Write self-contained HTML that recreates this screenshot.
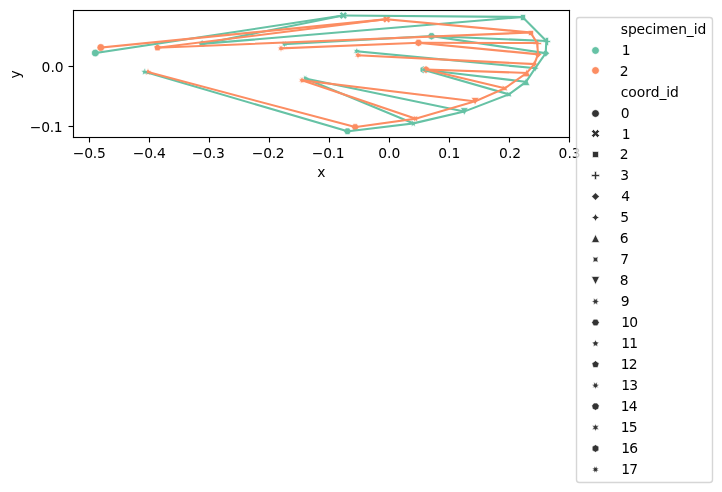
<!DOCTYPE html>
<html lang="en">
<head>
<meta charset="utf-8">
<title>plot</title>
<style>
html,body{margin:0;padding:0;background:#fff;}
body{width:722px;height:492px;overflow:hidden;position:relative;font-family:"DejaVu Sans","Liberation Sans",sans-serif;}
svg{position:absolute;left:0;top:0;display:block;}
</style>
</head>
<body>
<svg width="722" height="492" viewBox="0 0 722 492">
<g transform="translate(0,-0.1701) scale(1.388889)">
 <defs>
  <style type="text/css">*{stroke-linejoin: round; stroke-linecap: butt}</style>
 </defs>
 <g id="figure_1">
  <g id="patch_1">
   <path d="M 0 354.3625 
L 520.09 354.3625 
L 520.09 0 
L 0 0 
z
" style="fill: #ffffff"/>
  </g>
  <g id="axes_1">
   <g id="patch_2">
    <path d="M 52.49 98.563418 
L 409.61 98.563418 
L 409.61 7.2 
L 52.49 7.2 
z
" style="fill: #ffffff"/>
   </g>
   <g id="PathCollection_1">
    <path d="M 68.61600 41.02111 C 69.34229 41.02111 70.03893 40.73255 70.55249 40.21899 C 71.06606 39.70543 71.35461 39.00879 71.35461 38.28250 C 71.35461 37.55621 71.06606 36.85957 70.55249 36.34601 C 70.03893 35.83244 69.34229 35.54389 68.61600 35.54389 C 67.88971 35.54389 67.19307 35.83244 66.67951 36.34601 C 66.16594 36.85957 65.87739 37.55621 65.87739 38.28250 C 65.87739 39.00879 66.16594 39.70543 66.67951 40.21899 C 67.19307 40.73255 67.88971 41.02111 68.61600 41.02111 z" clip-path="url(#pe95a0014cc)" style="fill: #66c2a5; stroke: #ffffff; stroke-width: 0.438178"/>
    <path d="M 245.80669 14.02111 L 247.17600 12.65181 L 248.54531 14.02111 L 249.91461 12.65181 L 248.54531 11.28250 L 249.91461 9.91319 L 248.54531 8.54389 L 247.17600 9.91319 L 245.80669 8.54389 L 244.43739 9.91319 L 245.80669 11.28250 L 244.43739 12.65181 z" clip-path="url(#pe95a0014cc)" style="fill: #66c2a5; stroke: #ffffff; stroke-width: 0.438178"/>
    <path d="M 374.76000 10.56250 L 374.76000 14.88250 L 378.36000 14.88250 L 378.36000 10.56250 z" clip-path="url(#pe95a0014cc)" style="fill: #66c2a5; stroke: #ffffff; stroke-width: 0.438178"/>
    <path d="M 392.76000 32.88250 L 394.92000 32.88250 L 394.92000 30.72250 L 396.36000 30.72250 L 396.36000 29.28250 L 394.92000 29.28250 L 394.92000 27.12250 L 392.76000 27.12250 L 392.76000 29.28250 L 391.32000 29.28250 L 391.32000 30.72250 L 392.76000 30.72250 z" clip-path="url(#pe95a0014cc)" style="fill: #66c2a5; stroke: #ffffff; stroke-width: 0.438178"/>
    <path d="M 392.90400 35.68789 L 390.16539 38.42650 L 392.90400 41.16511 L 395.64261 38.42650 z" clip-path="url(#pe95a0014cc)" style="fill: #66c2a5; stroke: #ffffff; stroke-width: 0.438178"/>
    <path d="M 385.34400 46.48789 L 384.37575 48.25825 L 382.60539 49.22650 L 384.37575 50.19475 L 385.34400 51.96511 L 386.31225 50.19475 L 388.08261 49.22650 L 386.31225 48.25825 z" clip-path="url(#pe95a0014cc)" style="fill: #66c2a5; stroke: #ffffff; stroke-width: 0.438178"/>
    <path d="M 378.79200 56.27989 L 376.05339 61.75711 L 381.53061 61.75711 z" clip-path="url(#pe95a0014cc)" style="fill: #66c2a5; stroke: #ffffff; stroke-width: 0.438178"/>
    <path d="M 364.54351 66.15401 L 365.11069 68.09050 L 364.54351 70.02699 L 366.48000 69.45981 L 368.41649 70.02699 L 367.84931 68.09050 L 368.41649 66.15401 L 366.48000 66.72119 z" clip-path="url(#pe95a0014cc)" style="fill: #66c2a5; stroke: #ffffff; stroke-width: 0.438178"/>
    <path d="M 334.29600 83.14111 L 337.03461 77.66389 L 331.55739 77.66389 z" clip-path="url(#pe95a0014cc)" style="fill: #66c2a5; stroke: #ffffff; stroke-width: 0.438178"/>
    <path d="M 296.20669 86.59879 L 296.39015 88.28585 L 294.83739 88.97050 L 296.39015 89.65515 L 296.20669 91.34221 L 297.57600 90.33981 L 298.94531 91.34221 L 298.76185 89.65515 L 300.31461 88.97050 L 298.76185 88.28585 L 298.94531 86.59879 L 297.57600 87.60119 z" clip-path="url(#pe95a0014cc)" style="fill: #66c2a5; stroke: #ffffff; stroke-width: 0.438178"/>
    <path d="M 248.83069 92.28679 L 247.46139 94.65850 L 248.83069 97.03021 L 251.56931 97.03021 L 252.93861 94.65850 L 251.56931 92.28679 z" clip-path="url(#pe95a0014cc)" style="fill: #66c2a5; stroke: #ffffff; stroke-width: 0.438178"/>
    <path d="M 104.25600 49.15189 L 103.45114 50.78271 L 101.65142 51.04422 L 102.95371 52.31364 L 102.64628 54.10608 L 104.25600 53.25981 L 105.86572 54.10608 L 105.55829 52.31364 L 106.86058 51.04422 L 105.06086 50.78271 z" clip-path="url(#pe95a0014cc)" style="fill: #66c2a5; stroke: #ffffff; stroke-width: 0.438178"/>
    <path d="M 145.58400 28.99189 L 142.97942 30.88422 L 143.97428 33.94608 L 147.19372 33.94608 L 148.18858 30.88422 z" clip-path="url(#pe95a0014cc)" style="fill: #66c2a5; stroke: #ffffff; stroke-width: 0.438178"/>
    <path d="M 203.57976 29.40710 L 203.69743 31.02075 L 202.09805 31.26510 L 203.43302 32.17920 L 202.62687 33.58200 L 204.17388 33.10820 L 204.76800 34.61311 L 205.36212 33.10820 L 206.90913 33.58200 L 206.10297 32.17920 L 207.43795 31.26510 L 205.83857 31.02075 L 205.95624 29.40710 L 204.76800 30.50519 z" clip-path="url(#pe95a0014cc)" style="fill: #66c2a5; stroke: #ffffff; stroke-width: 0.438178"/>
    <path d="M 309.49176 23.64710 L 308.01005 25.50510 L 308.53887 27.82200 L 310.68000 28.85311 L 312.82113 27.82200 L 313.34995 25.50510 L 311.86824 23.64710 z" clip-path="url(#pe95a0014cc)" style="fill: #66c2a5; stroke: #ffffff; stroke-width: 0.438178"/>
    <path d="M 256.89600 34.31989 L 256.21135 35.87265 L 254.52429 35.68919 L 255.52669 37.05850 L 254.52429 38.42781 L 256.21135 38.24435 L 256.89600 39.79711 L 257.58065 38.24435 L 259.26771 38.42781 L 258.26531 37.05850 L 259.26771 35.68919 L 257.58065 35.87265 z" clip-path="url(#pe95a0014cc)" style="fill: #66c2a5; stroke: #ffffff; stroke-width: 0.438178"/>
    <path d="M 304.84800 47.56789 L 302.47629 48.93719 L 302.47629 51.67581 L 304.84800 53.04511 L 307.21971 51.67581 L 307.21971 48.93719 z" clip-path="url(#pe95a0014cc)" style="fill: #66c2a5; stroke: #ffffff; stroke-width: 0.438178"/>
    <path d="M 218.69598 54.04035 L 218.77575 55.60225 L 217.21385 55.52248 L 218.37469 56.57050 L 217.21385 57.61852 L 218.77575 57.53875 L 218.69598 59.10065 L 219.74400 57.93981 L 220.79202 59.10065 L 220.71225 57.53875 L 222.27415 57.61852 L 221.11331 56.57050 L 222.27415 55.52248 L 220.71225 55.60225 L 220.79202 54.04035 L 219.74400 55.20119 z" clip-path="url(#pe95a0014cc)" style="fill: #66c2a5; stroke: #ffffff; stroke-width: 0.438178"/>
    <path d="M 72.57600 37.06111 C 73.30229 37.06111 73.99893 36.77255 74.51249 36.25899 C 75.02605 35.74543 75.31461 35.04879 75.31461 34.32250 C 75.31461 33.59621 75.02605 32.89957 74.51249 32.38601 C 73.99893 31.87244 73.30229 31.58389 72.57600 31.58389 C 71.84971 31.58389 71.15307 31.87244 70.63951 32.38601 C 70.12595 32.89957 69.83739 33.59621 69.83739 34.32250 C 69.83739 35.04879 70.12595 35.74543 70.63951 36.25899 C 71.15307 36.77255 71.84971 37.06111 72.57600 37.06111 z" clip-path="url(#pe95a0014cc)" style="fill: #fc8d62; stroke: #ffffff; stroke-width: 0.438178"/>
    <path d="M 277.05469 16.68511 L 278.42400 15.31581 L 279.79331 16.68511 L 281.16261 15.31581 L 279.79331 13.94650 L 281.16261 12.57719 L 279.79331 11.20789 L 278.42400 12.57719 L 277.05469 11.20789 L 275.68539 12.57719 L 277.05469 13.94650 L 275.68539 15.31581 z" clip-path="url(#pe95a0014cc)" style="fill: #fc8d62; stroke: #ffffff; stroke-width: 0.438178"/>
    <path d="M 380.52000 22.08250 L 380.52000 25.68250 L 384.12000 25.68250 L 384.12000 22.08250 z" clip-path="url(#pe95a0014cc)" style="fill: #fc8d62; stroke: #ffffff; stroke-width: 0.438178"/>
    <path d="M 386.28000 34.32250 L 387.72000 34.32250 L 387.72000 32.16250 L 389.88000 32.16250 L 389.88000 30.72250 L 387.72000 30.72250 L 387.72000 28.56250 L 386.28000 28.56250 L 386.28000 30.72250 L 384.12000 30.72250 L 384.12000 32.16250 L 386.28000 32.16250 z" clip-path="url(#pe95a0014cc)" style="fill: #fc8d62; stroke: #ffffff; stroke-width: 0.438178"/>
    <path d="M 387.36000 36.47989 L 384.62139 39.21850 L 387.36000 41.95711 L 390.09861 39.21850 z" clip-path="url(#pe95a0014cc)" style="fill: #fc8d62; stroke: #ffffff; stroke-width: 0.438178"/>
    <path d="M 384.69600 43.53589 L 383.72775 45.30625 L 381.95739 46.27450 L 383.72775 47.24275 L 384.69600 49.01311 L 385.66425 47.24275 L 387.43461 46.27450 L 385.66425 45.30625 z" clip-path="url(#pe95a0014cc)" style="fill: #fc8d62; stroke: #ffffff; stroke-width: 0.438178"/>
    <path d="M 379.29600 49.87189 L 376.55739 55.34911 L 382.03461 55.34911 z" clip-path="url(#pe95a0014cc)" style="fill: #fc8d62; stroke: #ffffff; stroke-width: 0.438178"/>
    <path d="M 361.51951 61.76201 L 362.08669 63.69850 L 361.51951 65.63499 L 363.45600 65.06781 L 365.39249 65.63499 L 364.82531 63.69850 L 365.39249 61.76201 L 363.45600 62.32919 z" clip-path="url(#pe95a0014cc)" style="fill: #fc8d62; stroke: #ffffff; stroke-width: 0.438178"/>
    <path d="M 342.07200 75.79711 L 344.81061 70.31989 L 339.33339 70.31989 z" clip-path="url(#pe95a0014cc)" style="fill: #fc8d62; stroke: #ffffff; stroke-width: 0.438178"/>
    <path d="M 297.86269 83.21479 L 298.04615 84.90185 L 296.49339 85.58650 L 298.04615 86.27115 L 297.86269 87.95821 L 299.23200 86.95581 L 300.60131 87.95821 L 300.41785 86.27115 L 301.97061 85.58650 L 300.41785 84.90185 L 300.60131 83.21479 L 299.23200 84.21719 z" clip-path="url(#pe95a0014cc)" style="fill: #fc8d62; stroke: #ffffff; stroke-width: 0.438178"/>
    <path d="M 254.37469 89.26279 L 253.00539 91.63450 L 254.37469 94.00621 L 257.11331 94.00621 L 258.48261 91.63450 L 257.11331 89.26279 z" clip-path="url(#pe95a0014cc)" style="fill: #fc8d62; stroke: #ffffff; stroke-width: 0.438178"/>
    <path d="M 106.56000 49.29589 L 105.75514 50.92671 L 103.95542 51.18822 L 105.25771 52.45764 L 104.95028 54.25008 L 106.56000 53.40381 L 108.16972 54.25008 L 107.86229 52.45764 L 109.16458 51.18822 L 107.36486 50.92671 z" clip-path="url(#pe95a0014cc)" style="fill: #fc8d62; stroke: #ffffff; stroke-width: 0.438178"/>
    <path d="M 113.40000 31.72789 L 110.79542 33.62022 L 111.79028 36.68208 L 115.00972 36.68208 L 116.00458 33.62022 z" clip-path="url(#pe95a0014cc)" style="fill: #fc8d62; stroke: #ffffff; stroke-width: 0.438178"/>
    <path d="M 201.13176 32.50310 L 201.24943 34.11675 L 199.65005 34.36110 L 200.98503 35.27520 L 200.17887 36.67800 L 201.72588 36.20420 L 202.32000 37.70911 L 202.91412 36.20420 L 204.46113 36.67800 L 203.65498 35.27520 L 204.98995 34.36110 L 203.39057 34.11675 L 203.50824 32.50310 L 202.32000 33.60119 z" clip-path="url(#pe95a0014cc)" style="fill: #fc8d62; stroke: #ffffff; stroke-width: 0.438178"/>
    <path d="M 300.13176 28.47109 L 298.65005 30.32910 L 299.17887 32.64600 L 301.32000 33.67711 L 303.46113 32.64600 L 303.98995 30.32910 L 302.50824 28.47109 z" clip-path="url(#pe95a0014cc)" style="fill: #fc8d62; stroke: #ffffff; stroke-width: 0.438178"/>
    <path d="M 257.76000 37.12789 L 257.07535 38.68065 L 255.38829 38.49719 L 256.39069 39.86650 L 255.38829 41.23581 L 257.07535 41.05235 L 257.76000 42.60511 L 258.44465 41.05235 L 260.13171 41.23581 L 259.12931 39.86650 L 260.13171 38.49719 L 258.44465 38.68065 z" clip-path="url(#pe95a0014cc)" style="fill: #fc8d62; stroke: #ffffff; stroke-width: 0.438178"/>
    <path d="M 306.72000 47.49589 L 304.34829 48.86519 L 304.34829 51.60381 L 306.72000 52.97311 L 309.09171 51.60381 L 309.09171 48.86519 z" clip-path="url(#pe95a0014cc)" style="fill: #fc8d62; stroke: #ffffff; stroke-width: 0.438178"/>
    <path d="M 216.46398 55.40835 L 216.54375 56.97025 L 214.98185 56.89048 L 216.14269 57.93850 L 214.98185 58.98652 L 216.54375 58.90675 L 216.46398 60.46865 L 217.51200 59.30781 L 218.56002 60.46865 L 218.48025 58.90675 L 220.04215 58.98652 L 218.88131 57.93850 L 220.04215 56.89048 L 218.48025 56.97025 L 218.56002 55.40835 L 217.51200 56.56919 z" clip-path="url(#pe95a0014cc)" style="fill: #fc8d62; stroke: #ffffff; stroke-width: 0.438178"/>
   </g>
   <g id="matplotlib.axis_1">
    <g id="xtick_1">
     <g id="line2d_1">
      <defs>
       <path id="mbd2add99ed" d="M 0 0 
L 0 3.6 
" style="stroke: #000000; stroke-width: 0.8"/>
      </defs>
      <g>
       <use href="#mbd2add99ed" x="64.44000" y="99.12250" style="stroke: #000000; stroke-width: 0.8"/>
      </g>
     </g>
     <g id="text_1">
      <text style="font-size: 10px; font-family: 'DejaVu Sans', 'Liberation Sans', sans-serif; text-anchor: middle" x="64.30655" y="114.20342" textLength="23.6880" lengthAdjust="spacing">−0.5</text>
     </g>
    </g>
    <g id="xtick_2">
     <g id="line2d_2">
      <g>
       <use href="#mbd2add99ed" x="107.64000" y="99.12250" style="stroke: #000000; stroke-width: 0.8"/>
      </g>
     </g>
     <g id="text_2">
      <text style="font-size: 10px; font-family: 'DejaVu Sans', 'Liberation Sans', sans-serif; text-anchor: middle" x="107.49076" y="114.20342" textLength="23.6880" lengthAdjust="spacing">−0.4</text>
     </g>
    </g>
    <g id="xtick_3">
     <g id="line2d_3">
      <g>
       <use href="#mbd2add99ed" x="150.84000" y="99.12250" style="stroke: #000000; stroke-width: 0.8"/>
      </g>
     </g>
     <g id="text_3">
      <text style="font-size: 10px; font-family: 'DejaVu Sans', 'Liberation Sans', sans-serif; text-anchor: middle" x="149.95497" y="114.20342" textLength="23.6880" lengthAdjust="spacing">−0.3</text>
     </g>
    </g>
    <g id="xtick_4">
     <g id="line2d_4">
      <g>
       <use href="#mbd2add99ed" x="194.04000" y="99.12250" style="stroke: #000000; stroke-width: 0.8"/>
      </g>
     </g>
     <g id="text_4">
      <text style="font-size: 10px; font-family: 'DejaVu Sans', 'Liberation Sans', sans-serif; text-anchor: middle" x="193.13917" y="114.20342" textLength="23.6880" lengthAdjust="spacing">−0.2</text>
     </g>
    </g>
    <g id="xtick_5">
     <g id="line2d_5">
      <g>
       <use href="#mbd2add99ed" x="237.24000" y="99.12250" style="stroke: #000000; stroke-width: 0.8"/>
      </g>
     </g>
     <g id="text_5">
      <text style="font-size: 10px; font-family: 'DejaVu Sans', 'Liberation Sans', sans-serif; text-anchor: middle" x="236.32338" y="114.20342" textLength="23.6880" lengthAdjust="spacing">−0.1</text>
     </g>
    </g>
    <g id="xtick_6">
     <g id="line2d_6">
      <g>
       <use href="#mbd2add99ed" x="280.44000" y="99.12250" style="stroke: #000000; stroke-width: 0.8"/>
      </g>
     </g>
     <g id="text_6">
      <text style="font-size: 10px; font-family: 'DejaVu Sans', 'Liberation Sans', sans-serif; text-anchor: middle" x="280.22759" y="114.20342">0.0</text>
     </g>
    </g>
    <g id="xtick_7">
     <g id="line2d_7">
      <g>
       <use href="#mbd2add99ed" x="323.64000" y="99.12250" style="stroke: #000000; stroke-width: 0.8"/>
      </g>
     </g>
     <g id="text_7">
      <text style="font-size: 10px; font-family: 'DejaVu Sans', 'Liberation Sans', sans-serif; text-anchor: middle" x="323.41179" y="114.20342">0.1</text>
     </g>
    </g>
    <g id="xtick_8">
     <g id="line2d_8">
      <g>
       <use href="#mbd2add99ed" x="366.84000" y="99.12250" style="stroke: #000000; stroke-width: 0.8"/>
      </g>
     </g>
     <g id="text_8">
      <text style="font-size: 10px; font-family: 'DejaVu Sans', 'Liberation Sans', sans-serif; text-anchor: middle" x="367.31600" y="114.20342">0.2</text>
     </g>
    </g>
    <g id="xtick_9">
     <g id="line2d_9">
      <g>
       <use href="#mbd2add99ed" x="410.04000" y="99.12250" style="stroke: #000000; stroke-width: 0.8"/>
      </g>
     </g>
     <g id="text_9">
      <text style="font-size: 10px; font-family: 'DejaVu Sans', 'Liberation Sans', sans-serif; text-anchor: middle" x="410.14021" y="114.20342">0.3</text>
     </g>
    </g>
    <g id="text_10">
     <text style="font-size: 10px; font-family: 'DejaVu Sans', 'Liberation Sans', sans-serif; text-anchor: middle" x="231.41000" y="127.56342">x</text>
    </g>
   </g>
   <g id="matplotlib.axis_2">
    <g id="ytick_1">
     <g id="line2d_10">
      <defs>
       <path id="mc6c1e9b5ff" d="M 0 0 
L -3.6 0 
" style="stroke: #000000; stroke-width: 0.8"/>
      </defs>
      <g>
       <use href="#mc6c1e9b5ff" x="52.92000" y="91.20250" style="stroke: #000000; stroke-width: 0.8"/>
      </g>
     </g>
     <g id="text_11">
      <text style="font-size: 10px; font-family: 'DejaVu Sans', 'Liberation Sans', sans-serif; text-anchor: end" x="45.13000" y="95.05973" textLength="23.6880" lengthAdjust="spacing">−0.1</text>
     </g>
    </g>
    <g id="ytick_2">
     <g id="line2d_11">
      <g>
       <use href="#mc6c1e9b5ff" x="52.92000" y="48.00250" style="stroke: #000000; stroke-width: 0.8"/>
      </g>
     </g>
     <g id="text_12">
      <text style="font-size: 10px; font-family: 'DejaVu Sans', 'Liberation Sans', sans-serif; text-anchor: end" x="45.85000" y="51.87553">0.0</text>
     </g>
    </g>
    <g id="text_13">
     <text style="font-size: 10px; font-family: 'DejaVu Sans', 'Liberation Sans', sans-serif; text-anchor: middle" x="14.40000" y="53.60171" transform="rotate(-90 14.40000 53.60171)">y</text>
    </g>
   </g>
   <g id="line2d_12">
    <path d="M 68.616 38.2825 
L 247.176 11.2825 
" clip-path="url(#pe95a0014cc)" style="fill: none; stroke: #66c2a5; stroke-width: 1.5; stroke-linecap: square"/>
   </g>
   <g id="line2d_13">
    <path d="M 247.176 11.2825 
L 376.2 12.3625 
" clip-path="url(#pe95a0014cc)" style="fill: none; stroke: #66c2a5; stroke-width: 1.5; stroke-linecap: square"/>
   </g>
   <g id="line2d_14">
    <path d="M 376.2 12.3625 
L 393.3792 29.6425 
" clip-path="url(#pe95a0014cc)" style="fill: none; stroke: #66c2a5; stroke-width: 1.5; stroke-linecap: square"/>
   </g>
   <g id="line2d_15">
    <path d="M 393.3792 29.6425 
L 392.904 38.4265 
" clip-path="url(#pe95a0014cc)" style="fill: none; stroke: #66c2a5; stroke-width: 1.5; stroke-linecap: square"/>
   </g>
   <g id="line2d_16">
    <path d="M 392.904 38.4265 
L 385.344 49.2265 
" clip-path="url(#pe95a0014cc)" style="fill: none; stroke: #66c2a5; stroke-width: 1.5; stroke-linecap: square"/>
   </g>
   <g id="line2d_17">
    <path d="M 385.344 49.2265 
L 378.792 59.0185 
" clip-path="url(#pe95a0014cc)" style="fill: none; stroke: #66c2a5; stroke-width: 1.5; stroke-linecap: square"/>
   </g>
   <g id="line2d_18">
    <path d="M 378.792 59.0185 
L 366.48 68.0905 
" clip-path="url(#pe95a0014cc)" style="fill: none; stroke: #66c2a5; stroke-width: 1.5; stroke-linecap: square"/>
   </g>
   <g id="line2d_19">
    <path d="M 366.48 68.0905 
L 334.296 80.4025 
" clip-path="url(#pe95a0014cc)" style="fill: none; stroke: #66c2a5; stroke-width: 1.5; stroke-linecap: square"/>
   </g>
   <g id="line2d_20">
    <path d="M 334.296 80.4025 
L 297.576 88.9705 
" clip-path="url(#pe95a0014cc)" style="fill: none; stroke: #66c2a5; stroke-width: 1.5; stroke-linecap: square"/>
   </g>
   <g id="line2d_21">
    <path d="M 297.576 88.9705 
L 250.2 94.6585 
" clip-path="url(#pe95a0014cc)" style="fill: none; stroke: #66c2a5; stroke-width: 1.5; stroke-linecap: square"/>
   </g>
   <g id="line2d_22">
    <path d="M 250.2 94.6585 
L 104.256 51.8905 
" clip-path="url(#pe95a0014cc)" style="fill: none; stroke: #66c2a5; stroke-width: 1.5; stroke-linecap: square"/>
   </g>
   <g id="line2d_23">
    <path d="M 145.584 31.7305 
L 247.176 11.2825 
" clip-path="url(#pe95a0014cc)" style="fill: none; stroke: #66c2a5; stroke-width: 1.5; stroke-linecap: square"/>
   </g>
   <g id="line2d_24">
    <path d="M 145.584 31.7305 
L 376.2 12.3625 
" clip-path="url(#pe95a0014cc)" style="fill: none; stroke: #66c2a5; stroke-width: 1.5; stroke-linecap: square"/>
   </g>
   <g id="line2d_25">
    <path d="M 204.768 31.8745 
L 310.68 26.1145 
" clip-path="url(#pe95a0014cc)" style="fill: none; stroke: #66c2a5; stroke-width: 1.5; stroke-linecap: square"/>
   </g>
   <g id="line2d_26">
    <path d="M 310.68 26.1145 
L 393.3792 29.6425 
" clip-path="url(#pe95a0014cc)" style="fill: none; stroke: #66c2a5; stroke-width: 1.5; stroke-linecap: square"/>
   </g>
   <g id="line2d_27">
    <path d="M 310.68 26.1145 
L 392.904 38.4265 
" clip-path="url(#pe95a0014cc)" style="fill: none; stroke: #66c2a5; stroke-width: 1.5; stroke-linecap: square"/>
   </g>
   <g id="line2d_28">
    <path d="M 256.896 37.0585 
L 385.344 49.2265 
" clip-path="url(#pe95a0014cc)" style="fill: none; stroke: #66c2a5; stroke-width: 1.5; stroke-linecap: square"/>
   </g>
   <g id="line2d_29">
    <path d="M 304.848 50.3065 
L 378.792 59.0185 
" clip-path="url(#pe95a0014cc)" style="fill: none; stroke: #66c2a5; stroke-width: 1.5; stroke-linecap: square"/>
   </g>
   <g id="line2d_30">
    <path d="M 304.848 50.3065 
L 366.48 68.0905 
" clip-path="url(#pe95a0014cc)" style="fill: none; stroke: #66c2a5; stroke-width: 1.5; stroke-linecap: square"/>
   </g>
   <g id="line2d_31">
    <path d="M 219.744 56.5705 
L 334.296 80.4025 
" clip-path="url(#pe95a0014cc)" style="fill: none; stroke: #66c2a5; stroke-width: 1.5; stroke-linecap: square"/>
   </g>
   <g id="line2d_32">
    <path d="M 219.744 56.5705 
L 297.576 88.9705 
" clip-path="url(#pe95a0014cc)" style="fill: none; stroke: #66c2a5; stroke-width: 1.5; stroke-linecap: square"/>
   </g>
   <g id="line2d_33">
    <path d="M 72.576 34.3225 
L 278.424 13.9465 
" clip-path="url(#pe95a0014cc)" style="fill: none; stroke: #fc8d62; stroke-width: 1.5; stroke-linecap: square"/>
   </g>
   <g id="line2d_34">
    <path d="M 278.424 13.9465 
L 381.96 23.5225 
" clip-path="url(#pe95a0014cc)" style="fill: none; stroke: #fc8d62; stroke-width: 1.5; stroke-linecap: square"/>
   </g>
   <g id="line2d_35">
    <path d="M 381.96 23.5225 
L 386.784 31.0825 
" clip-path="url(#pe95a0014cc)" style="fill: none; stroke: #fc8d62; stroke-width: 1.5; stroke-linecap: square"/>
   </g>
   <g id="line2d_36">
    <path d="M 386.784 31.0825 
L 387.36 39.2185 
" clip-path="url(#pe95a0014cc)" style="fill: none; stroke: #fc8d62; stroke-width: 1.5; stroke-linecap: square"/>
   </g>
   <g id="line2d_37">
    <path d="M 387.36 39.2185 
L 384.696 46.2745 
" clip-path="url(#pe95a0014cc)" style="fill: none; stroke: #fc8d62; stroke-width: 1.5; stroke-linecap: square"/>
   </g>
   <g id="line2d_38">
    <path d="M 384.696 46.2745 
L 379.296 52.6105 
" clip-path="url(#pe95a0014cc)" style="fill: none; stroke: #fc8d62; stroke-width: 1.5; stroke-linecap: square"/>
   </g>
   <g id="line2d_39">
    <path d="M 379.296 52.6105 
L 363.456 63.6985 
" clip-path="url(#pe95a0014cc)" style="fill: none; stroke: #fc8d62; stroke-width: 1.5; stroke-linecap: square"/>
   </g>
   <g id="line2d_40">
    <path d="M 363.456 63.6985 
L 342.072 73.0585 
" clip-path="url(#pe95a0014cc)" style="fill: none; stroke: #fc8d62; stroke-width: 1.5; stroke-linecap: square"/>
   </g>
   <g id="line2d_41">
    <path d="M 342.072 73.0585 
L 299.232 85.5865 
" clip-path="url(#pe95a0014cc)" style="fill: none; stroke: #fc8d62; stroke-width: 1.5; stroke-linecap: square"/>
   </g>
   <g id="line2d_42">
    <path d="M 299.232 85.5865 
L 255.744 91.6345 
" clip-path="url(#pe95a0014cc)" style="fill: none; stroke: #fc8d62; stroke-width: 1.5; stroke-linecap: square"/>
   </g>
   <g id="line2d_43">
    <path d="M 255.744 91.6345 
L 106.56 52.0345 
" clip-path="url(#pe95a0014cc)" style="fill: none; stroke: #fc8d62; stroke-width: 1.5; stroke-linecap: square"/>
   </g>
   <g id="line2d_44">
    <path d="M 113.4 34.4665 
L 278.424 13.9465 
" clip-path="url(#pe95a0014cc)" style="fill: none; stroke: #fc8d62; stroke-width: 1.5; stroke-linecap: square"/>
   </g>
   <g id="line2d_45">
    <path d="M 113.4 34.4665 
L 381.96 23.5225 
" clip-path="url(#pe95a0014cc)" style="fill: none; stroke: #fc8d62; stroke-width: 1.5; stroke-linecap: square"/>
   </g>
   <g id="line2d_46">
    <path d="M 202.32 34.9705 
L 301.32 30.9385 
" clip-path="url(#pe95a0014cc)" style="fill: none; stroke: #fc8d62; stroke-width: 1.5; stroke-linecap: square"/>
   </g>
   <g id="line2d_47">
    <path d="M 301.32 30.9385 
L 386.784 31.0825 
" clip-path="url(#pe95a0014cc)" style="fill: none; stroke: #fc8d62; stroke-width: 1.5; stroke-linecap: square"/>
   </g>
   <g id="line2d_48">
    <path d="M 301.32 30.9385 
L 387.36 39.2185 
" clip-path="url(#pe95a0014cc)" style="fill: none; stroke: #fc8d62; stroke-width: 1.5; stroke-linecap: square"/>
   </g>
   <g id="line2d_49">
    <path d="M 257.76 39.8665 
L 384.696 46.2745 
" clip-path="url(#pe95a0014cc)" style="fill: none; stroke: #fc8d62; stroke-width: 1.5; stroke-linecap: square"/>
   </g>
   <g id="line2d_50">
    <path d="M 306.72 50.2345 
L 379.296 52.6105 
" clip-path="url(#pe95a0014cc)" style="fill: none; stroke: #fc8d62; stroke-width: 1.5; stroke-linecap: square"/>
   </g>
   <g id="line2d_51">
    <path d="M 306.72 50.2345 
L 363.456 63.6985 
" clip-path="url(#pe95a0014cc)" style="fill: none; stroke: #fc8d62; stroke-width: 1.5; stroke-linecap: square"/>
   </g>
   <g id="line2d_52">
    <path d="M 217.512 57.9385 
L 342.072 73.0585 
" clip-path="url(#pe95a0014cc)" style="fill: none; stroke: #fc8d62; stroke-width: 1.5; stroke-linecap: square"/>
   </g>
   <g id="line2d_53">
    <path d="M 217.512 57.9385 
L 299.232 85.5865 
" clip-path="url(#pe95a0014cc)" style="fill: none; stroke: #fc8d62; stroke-width: 1.5; stroke-linecap: square"/>
   </g>
   <g id="line2d_54"/>
   <g id="line2d_55"/>
   <g id="line2d_56"/>
   <g id="line2d_57"/>
   <g id="line2d_58"/>
   <g id="line2d_59"/>
   <g id="line2d_60"/>
   <g id="line2d_61"/>
   <g id="line2d_62"/>
   <g id="line2d_63"/>
   <g id="line2d_64"/>
   <g id="line2d_65"/>
   <g id="line2d_66"/>
   <g id="line2d_67"/>
   <g id="line2d_68"/>
   <g id="line2d_69"/>
   <g id="line2d_70"/>
   <g id="line2d_71"/>
   <g id="line2d_72"/>
   <g id="line2d_73"/>
   <g id="line2d_74"/>
   <g id="line2d_75"/>
   <g id="patch_3">
    <path d="M 52.92000 99.12250 L 52.92000 7.68250" style="fill: none; stroke: #000000; stroke-width: 0.8; stroke-linejoin: miter; stroke-linecap: square"/>
   </g>
   <g id="patch_4">
    <path d="M 410.04000 99.12250 L 410.04000 7.68250" style="fill: none; stroke: #000000; stroke-width: 0.8; stroke-linejoin: miter; stroke-linecap: square"/>
   </g>
   <g id="patch_5">
    <path d="M 52.92000 99.12250 L 410.04000 99.12250" style="fill: none; stroke: #000000; stroke-width: 0.8; stroke-linejoin: miter; stroke-linecap: square"/>
    <path d="M 52.51997 98.40250 L 410.44003 98.40250" style="fill: none; stroke: #000000; stroke-opacity: 0.055; stroke-width: 0.72000"/>
    <path d="M 52.51997 99.84250 L 410.44003 99.84250" style="fill: none; stroke: #000000; stroke-opacity: 0.055; stroke-width: 0.72000"/>
   </g>
   <g id="patch_6">
    <path d="M 52.92000 7.68250 L 410.04000 7.68250" style="fill: none; stroke: #000000; stroke-width: 0.8; stroke-linejoin: miter; stroke-linecap: square"/>
    <path d="M 52.51997 6.96250 L 410.44003 6.96250" style="fill: none; stroke: #000000; stroke-opacity: 0.055; stroke-width: 0.72000"/>
    <path d="M 52.51997 8.40250 L 410.44003 8.40250" style="fill: none; stroke: #000000; stroke-opacity: 0.055; stroke-width: 0.72000"/>
   </g>
   <g id="legend_1">
    <g id="patch_7">
     <path d="M 417.0800 347.5225 L 511.0000 347.5225 Q 513.0000 347.5225 513.0000 345.5225 L 513.0000 14.7225 Q 513.0000 12.7225 511.0000 12.7225 L 417.0800 12.7225 Q 415.0800 12.7225 415.0800 14.7225 L 415.0800 345.5225 Q 415.0800 347.5225 417.0800 347.5225 z" style="fill: #ffffff; opacity: 0.8; stroke: #cccccc; stroke-linejoin: miter"/>
    </g>
    <g id="line2d_76"/>
    <g id="text_14">
     <text style="font-size: 10px; font-family: 'DejaVu Sans', 'Liberation Sans', sans-serif; text-anchor: start" x="446.97000" y="24.84000" textLength="61.4880" lengthAdjust="spacing">specimen_id</text>
    </g>
    <g id="line2d_77">
     <defs>
      <path id="m8b1454bfd1" d="M 0.00000 2.73861 C 0.72629 2.73861 1.42293 2.45005 1.93649 1.93649 C 2.45005 1.42293 2.73861 0.72629 2.73861 0.00000 C 2.73861 -0.72629 2.45005 -1.42293 1.93649 -1.93649 C 1.42293 -2.45005 0.72629 -2.73861 0.00000 -2.73861 C -0.72629 -2.73861 -1.42293 -2.45005 -1.93649 -1.93649 C -2.45005 -1.42293 -2.73861 -0.72629 -2.73861 0.00000 C -2.73861 0.72629 -2.45005 1.42293 -1.93649 1.93649 C -1.42293 2.45005 -0.72629 2.73861 0.00000 2.73861 z" style="stroke: #ffffff; stroke-width: 0.438178"/>
     </defs>
     <g>
      <use href="#m8b1454bfd1" x="428.76000" y="36.48250" style="fill: #66c2a5; stroke: #ffffff; stroke-width: 0.438178"/>
     </g>
    </g>
    <g id="text_15">
     <text style="font-size: 10px; font-family: 'DejaVu Sans', 'Liberation Sans', sans-serif; text-anchor: start" x="447.69000" y="40.02125">1</text>
    </g>
    <g id="line2d_78">
     <defs>
      <path id="mcf4b1e923e" d="M 0.00000 2.73861 C 0.72629 2.73861 1.42293 2.45005 1.93649 1.93649 C 2.45005 1.42293 2.73861 0.72629 2.73861 0.00000 C 2.73861 -0.72629 2.45005 -1.42293 1.93649 -1.93649 C 1.42293 -2.45005 0.72629 -2.73861 0.00000 -2.73861 C -0.72629 -2.73861 -1.42293 -2.45005 -1.93649 -1.93649 C -2.45005 -1.42293 -2.73861 -0.72629 -2.73861 0.00000 C -2.73861 0.72629 -2.45005 1.42293 -1.93649 1.93649 C -1.42293 2.45005 -0.72629 2.73861 0.00000 2.73861 z" style="stroke: #ffffff; stroke-width: 0.438178"/>
     </defs>
     <g>
      <use href="#mcf4b1e923e" x="428.76000" y="50.88250" style="fill: #fc8d62; stroke: #ffffff; stroke-width: 0.438178"/>
     </g>
    </g>
    <g id="text_16">
     <text style="font-size: 10px; font-family: 'DejaVu Sans', 'Liberation Sans', sans-serif; text-anchor: start" x="446.25000" y="55.10125">2</text>
    </g>
    <g id="line2d_79"/>
    <g id="text_17">
     <text style="font-size: 10px; font-family: 'DejaVu Sans', 'Liberation Sans', sans-serif; text-anchor: start" x="446.97000" y="70.18125" textLength="41.8320" lengthAdjust="spacing">coord_id</text>
    </g>
    <g id="line2d_80">
     <defs>
      <path id="m3ec331343c" d="M 0.00000 2.73861 C 0.72629 2.73861 1.42293 2.45005 1.93649 1.93649 C 2.45005 1.42293 2.73861 0.72629 2.73861 0.00000 C 2.73861 -0.72629 2.45005 -1.42293 1.93649 -1.93649 C 1.42293 -2.45005 0.72629 -2.73861 0.00000 -2.73861 C -0.72629 -2.73861 -1.42293 -2.45005 -1.93649 -1.93649 C -2.45005 -1.42293 -2.73861 -0.72629 -2.73861 0.00000 C -2.73861 0.72629 -2.45005 1.42293 -1.93649 1.93649 C -1.42293 2.45005 -0.72629 2.73861 0.00000 2.73861 z" style="stroke: #ffffff; stroke-width: 0.438178"/>
     </defs>
     <g>
      <use href="#m3ec331343c" x="428.76000" y="81.84250" style="fill: #333333; stroke: #ffffff; stroke-width: 0.438178"/>
     </g>
    </g>
    <g id="text_18">
     <text style="font-size: 10px; font-family: 'DejaVu Sans', 'Liberation Sans', sans-serif; text-anchor: start" x="446.97000" y="85.36250">0</text>
    </g>
    <g id="line2d_81">
     <defs>
      <path id="m2d0d492223" d="M -1.08000 3.24000 L 0.36000 1.80000 L 1.80000 3.24000 L 3.24000 1.80000 L 1.80000 0.36000 L 3.24000 -1.08000 L 1.80000 -2.52000 L 0.36000 -1.08000 L -1.08000 -2.52000 L -2.52000 -1.08000 L -1.08000 0.36000 L -2.52000 1.80000 z" style="stroke: #ffffff; stroke-width: 0.438178; stroke-linejoin: miter"/>
     </defs>
     <g>
      <use href="#m2d0d492223" x="428.40000" y="95.88250" style="fill: #333333; stroke: #ffffff; stroke-width: 0.438178; stroke-linejoin: miter"/>
     </g>
    </g>
    <g id="text_19">
     <text style="font-size: 10px; font-family: 'DejaVu Sans', 'Liberation Sans', sans-serif; text-anchor: start" x="447.69000" y="100.44250">1</text>
    </g>
    <g id="line2d_82">
     <defs>
      <path id="mecba37894c" d="M -1.80000 -1.80000 L -1.80000 2.52000 L 2.52000 2.52000 L 2.52000 -1.80000 z" style="stroke: #ffffff; stroke-width: 0.438178; stroke-linejoin: miter"/>
     </defs>
     <g>
      <use href="#mecba37894c" x="428.40000" y="111.00250" style="fill: #333333; stroke: #ffffff; stroke-width: 0.438178; stroke-linejoin: miter"/>
     </g>
    </g>
    <g id="text_20">
     <text style="font-size: 10px; font-family: 'DejaVu Sans', 'Liberation Sans', sans-serif; text-anchor: start" x="446.25000" y="114.80250">2</text>
    </g>
    <g id="line2d_83">
     <defs>
      <path id="m20fb018582" d="M -0.36000 3.24000 L 1.08000 3.24000 L 1.08000 1.08000 L 3.24000 1.08000 L 3.24000 -0.36000 L 1.08000 -0.36000 L 1.08000 -2.52000 L -0.36000 -2.52000 L -0.36000 -0.36000 L -2.52000 -0.36000 L -2.52000 1.08000 L -0.36000 1.08000 z" style="stroke: #ffffff; stroke-width: 0.438178; stroke-linejoin: miter"/>
     </defs>
     <g>
      <use href="#m20fb018582" x="428.40000" y="126.12250" style="fill: #333333; stroke: #ffffff; stroke-width: 0.438178; stroke-linejoin: miter"/>
     </g>
    </g>
    <g id="text_21">
     <text style="font-size: 10px; font-family: 'DejaVu Sans', 'Liberation Sans', sans-serif; text-anchor: start" x="446.61000" y="129.88250">3</text>
    </g>
    <g id="line2d_84">
     <defs>
      <path id="m0c1b1cea74" d="M 0.00000 -2.73861 L -2.73861 -0.00000 L -0.00000 2.73861 L 2.73861 0.00000 z" style="stroke: #ffffff; stroke-width: 0.438178; stroke-linejoin: miter"/>
     </defs>
     <g>
      <use href="#m0c1b1cea74" x="428.76000" y="141.60250" style="fill: #333333; stroke: #ffffff; stroke-width: 0.438178; stroke-linejoin: miter"/>
     </g>
    </g>
    <g id="text_22">
     <text style="font-size: 10px; font-family: 'DejaVu Sans', 'Liberation Sans', sans-serif; text-anchor: start" x="447.33000" y="144.96250">4</text>
    </g>
    <g id="line2d_85">
     <defs>
      <path id="m7bccfab7d0" d="M 0.00000 -2.73861 L -0.96825 -0.96825 L -2.73861 -0.00000 L -0.96825 0.96825 L -0.00000 2.73861 L 0.96825 0.96825 L 2.73861 0.00000 L 0.96825 -0.96825 z" style="stroke: #ffffff; stroke-width: 0.438178; stroke-linejoin: bevel"/>
     </defs>
     <g>
      <use href="#m7bccfab7d0" x="428.76000" y="156.72250" style="fill: #333333; stroke: #ffffff; stroke-width: 0.438178; stroke-linejoin: bevel"/>
     </g>
    </g>
    <g id="text_23">
     <text style="font-size: 10px; font-family: 'DejaVu Sans', 'Liberation Sans', sans-serif; text-anchor: start" x="446.61000" y="160.04250">5</text>
    </g>
    <g id="line2d_86">
     <defs>
      <path id="m1566d8b371" d="M 0.36000 -2.52000 L -2.52000 3.24000 L 3.24000 3.24000 z" style="stroke: #ffffff; stroke-width: 0.438178; stroke-linejoin: miter"/>
     </defs>
     <g>
      <use href="#m1566d8b371" x="428.40000" y="171.48250" style="fill: #333333; stroke: #ffffff; stroke-width: 0.438178; stroke-linejoin: miter"/>
     </g>
    </g>
    <g id="text_24">
     <text style="font-size: 10px; font-family: 'DejaVu Sans', 'Liberation Sans', sans-serif; text-anchor: start" x="446.25000" y="175.12250">6</text>
    </g>
    <g id="line2d_87">
     <defs>
      <path id="m8596834fac" d="M -1.93649 -1.93649 L -1.36931 -0.00000 L -1.93649 1.93649 L -0.00000 1.36931 L 1.93649 1.93649 L 1.36931 0.00000 L 1.93649 -1.93649 L 0.00000 -1.36931 z" style="stroke: #ffffff; stroke-width: 0.438178; stroke-linejoin: bevel"/>
     </defs>
     <g>
      <use href="#m8596834fac" x="428.76000" y="186.96250" style="fill: #333333; stroke: #ffffff; stroke-width: 0.438178; stroke-linejoin: bevel"/>
     </g>
    </g>
    <g id="text_25">
     <text style="font-size: 10px; font-family: 'DejaVu Sans', 'Liberation Sans', sans-serif; text-anchor: start" x="446.61000" y="190.20250">7</text>
    </g>
    <g id="line2d_88">
     <defs>
      <path id="m6b883c012f" d="M 0.36000 3.24000 L 3.24000 -2.52000 L -2.52000 -2.52000 z" style="stroke: #ffffff; stroke-width: 0.438178; stroke-linejoin: miter"/>
     </defs>
     <g>
      <use href="#m6b883c012f" x="428.40000" y="201.72250" style="fill: #333333; stroke: #ffffff; stroke-width: 0.438178; stroke-linejoin: miter"/>
     </g>
    </g>
    <g id="text_26">
     <text style="font-size: 10px; font-family: 'DejaVu Sans', 'Liberation Sans', sans-serif; text-anchor: start" x="446.25000" y="205.28250">8</text>
    </g>
    <g id="line2d_89">
     <defs>
      <path id="m536f1baf98" d="M -1.36931 -2.37171 L -1.18585 -0.68465 L -2.73861 -0.00000 L -1.18585 0.68465 L -1.36931 2.37171 L -0.00000 1.36931 L 1.36931 2.37171 L 1.18585 0.68465 L 2.73861 0.00000 L 1.18585 -0.68465 L 1.36931 -2.37171 L 0.00000 -1.36931 z" style="stroke: #ffffff; stroke-width: 0.438178; stroke-linejoin: bevel"/>
     </defs>
     <g>
      <use href="#m536f1baf98" x="428.76000" y="217.20250" style="fill: #333333; stroke: #ffffff; stroke-width: 0.438178; stroke-linejoin: bevel"/>
     </g>
    </g>
    <g id="text_27">
     <text style="font-size: 10px; font-family: 'DejaVu Sans', 'Liberation Sans', sans-serif; text-anchor: start" x="446.97000" y="220.36250">9</text>
    </g>
    <g id="line2d_90">
     <defs>
      <path id="mb8202bf9df" d="M -1.36931 -2.37171 L -2.73861 -0.00000 L -1.36931 2.37171 L 1.36931 2.37171 L 2.73861 0.00000 L 1.36931 -2.37171 z" style="stroke: #ffffff; stroke-width: 0.438178; stroke-linejoin: miter"/>
     </defs>
     <g>
      <use href="#mb8202bf9df" x="428.76000" y="232.32250" style="fill: #333333; stroke: #ffffff; stroke-width: 0.438178; stroke-linejoin: miter"/>
     </g>
    </g>
    <g id="text_28">
     <text style="font-size: 10px; font-family: 'DejaVu Sans', 'Liberation Sans', sans-serif; text-anchor: start" x="447.33000" y="235.44250" textLength="12.0960" lengthAdjust="spacing">10</text>
    </g>
    <g id="line2d_91">
     <defs>
      <path id="m7e728a2d3f" d="M 0.00000 -2.73861 L -0.80486 -1.10779 L -2.60458 -0.84628 L -1.30229 0.42314 L -1.60972 2.21558 L -0.00000 1.36931 L 1.60972 2.21558 L 1.30229 0.42314 L 2.60458 -0.84628 L 0.80486 -1.10779 z" style="stroke: #ffffff; stroke-width: 0.438178; stroke-linejoin: bevel"/>
     </defs>
     <g>
      <use href="#m7e728a2d3f" x="428.76000" y="247.44250" style="fill: #333333; stroke: #ffffff; stroke-width: 0.438178; stroke-linejoin: bevel"/>
     </g>
    </g>
    <g id="text_29">
     <text style="font-size: 10px; font-family: 'DejaVu Sans', 'Liberation Sans', sans-serif; text-anchor: start" x="447.33000" y="250.52250" textLength="12.0960" lengthAdjust="spacing">11</text>
    </g>
    <g id="line2d_92">
     <defs>
      <path id="m3742e42bca" d="M 0.00000 -2.73861 L -2.60458 -0.84628 L -1.60972 2.21558 L 1.60972 2.21558 L 2.60458 -0.84628 z" style="stroke: #ffffff; stroke-width: 0.438178; stroke-linejoin: miter"/>
     </defs>
     <g>
      <use href="#m3742e42bca" x="428.76000" y="262.56250" style="fill: #333333; stroke: #ffffff; stroke-width: 0.438178; stroke-linejoin: miter"/>
     </g>
    </g>
    <g id="text_30">
     <text style="font-size: 10px; font-family: 'DejaVu Sans', 'Liberation Sans', sans-serif; text-anchor: start" x="446.97000" y="265.60250" textLength="12.0960" lengthAdjust="spacing">12</text>
    </g>
    <g id="line2d_93">
     <defs>
      <path id="m7e2dd002b5" d="M -1.18824 -2.46740 L -1.07057 -0.85375 L -2.66995 -0.60940 L -1.33498 0.30470 L -2.14113 1.70750 L -0.59412 1.23370 L -0.00000 2.73861 L 0.59412 1.23370 L 2.14113 1.70750 L 1.33498 0.30470 L 2.66995 -0.60940 L 1.07057 -0.85375 L 1.18824 -2.46740 L 0.00000 -1.36931 z" style="stroke: #ffffff; stroke-width: 0.438178; stroke-linejoin: bevel"/>
     </defs>
     <g>
      <use href="#m7e2dd002b5" x="428.76000" y="277.68250" style="fill: #333333; stroke: #ffffff; stroke-width: 0.438178; stroke-linejoin: bevel"/>
     </g>
    </g>
    <g id="text_31">
     <text style="font-size: 10px; font-family: 'DejaVu Sans', 'Liberation Sans', sans-serif; text-anchor: start" x="447.33000" y="280.68250" textLength="12.0960" lengthAdjust="spacing">13</text>
    </g>
    <g id="line2d_94">
     <defs>
      <path id="m127f041e77" d="M -1.18824 -2.46740 L -2.66995 -0.60940 L -2.14113 1.70750 L -0.00000 2.73861 L 2.14113 1.70750 L 2.66995 -0.60940 L 1.18824 -2.46740 z" style="stroke: #ffffff; stroke-width: 0.438178; stroke-linejoin: miter"/>
     </defs>
     <g>
      <use href="#m127f041e77" x="428.76000" y="292.80250" style="fill: #333333; stroke: #ffffff; stroke-width: 0.438178; stroke-linejoin: miter"/>
     </g>
    </g>
    <g id="text_32">
     <text style="font-size: 10px; font-family: 'DejaVu Sans', 'Liberation Sans', sans-serif; text-anchor: start" x="446.97000" y="295.76250" textLength="12.0960" lengthAdjust="spacing">14</text>
    </g>
    <g id="line2d_95">
     <defs>
      <path id="m22affe7b90" d="M 0.00000 -2.73861 L -0.68465 -1.18585 L -2.37171 -1.36931 L -1.36931 -0.00000 L -2.37171 1.36931 L -0.68465 1.18585 L -0.00000 2.73861 L 0.68465 1.18585 L 2.37171 1.36931 L 1.36931 0.00000 L 2.37171 -1.36931 L 0.68465 -1.18585 z" style="stroke: #ffffff; stroke-width: 0.438178; stroke-linejoin: bevel"/>
     </defs>
     <g>
      <use href="#m22affe7b90" x="428.76000" y="307.92250" style="fill: #333333; stroke: #ffffff; stroke-width: 0.438178; stroke-linejoin: bevel"/>
     </g>
    </g>
    <g id="text_33">
     <text style="font-size: 10px; font-family: 'DejaVu Sans', 'Liberation Sans', sans-serif; text-anchor: start" x="446.97000" y="310.84250" textLength="12.0960" lengthAdjust="spacing">15</text>
    </g>
    <g id="line2d_96">
     <defs>
      <path id="mbf1b905557" d="M 0.00000 -2.73861 L -2.37171 -1.36931 L -2.37171 1.36931 L -0.00000 2.73861 L 2.37171 1.36931 L 2.37171 -1.36931 z" style="stroke: #ffffff; stroke-width: 0.438178; stroke-linejoin: miter"/>
     </defs>
     <g>
      <use href="#mbf1b905557" x="428.76000" y="323.04250" style="fill: #333333; stroke: #ffffff; stroke-width: 0.438178; stroke-linejoin: miter"/>
     </g>
    </g>
    <g id="text_34">
     <text style="font-size: 10px; font-family: 'DejaVu Sans', 'Liberation Sans', sans-serif; text-anchor: start" x="447.33000" y="326.64250" textLength="12.0960" lengthAdjust="spacing">16</text>
    </g>
    <g id="line2d_97">
     <defs>
      <path id="ma4ac48a82b" d="M -1.04802 -2.53015 L -0.96825 -0.96825 L -2.53015 -1.04802 L -1.36931 -0.00000 L -2.53015 1.04802 L -0.96825 0.96825 L -1.04802 2.53015 L -0.00000 1.36931 L 1.04802 2.53015 L 0.96825 0.96825 L 2.53015 1.04802 L 1.36931 0.00000 L 2.53015 -1.04802 L 0.96825 -0.96825 L 1.04802 -2.53015 L 0.00000 -1.36931 z" style="stroke: #ffffff; stroke-width: 0.438178; stroke-linejoin: bevel"/>
     </defs>
     <g>
      <use href="#ma4ac48a82b" x="428.76000" y="338.16250" style="fill: #333333; stroke: #ffffff; stroke-width: 0.438178; stroke-linejoin: bevel"/>
     </g>
    </g>
    <g id="text_35">
     <text style="font-size: 10px; font-family: 'DejaVu Sans', 'Liberation Sans', sans-serif; text-anchor: start" x="447.33000" y="341.72250" textLength="12.0960" lengthAdjust="spacing">17</text>
    </g>
   </g>
  </g>
 </g>
 <defs>
  <clipPath id="pe95a0014cc">
   <rect x="52.49" y="7.2" width="357.12" height="91.363418"/>
  </clipPath>
 </defs>
</g>
</svg>
</body>
</html>
